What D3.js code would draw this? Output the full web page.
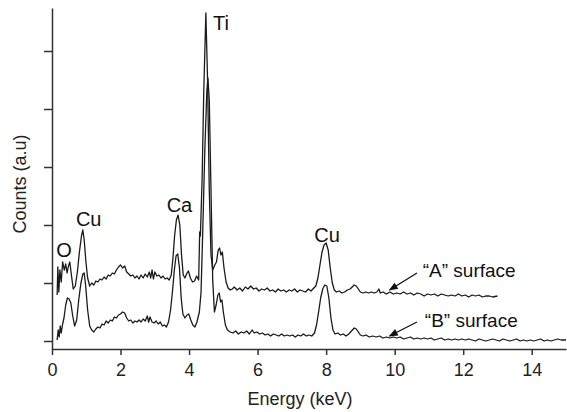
<!DOCTYPE html>
<html>
<head>
<meta charset="utf-8">
<script src="https://cdn.jsdelivr.net/npm/d3@7"></script>
<style>
  body { margin: 0; background: #fff; }
  svg { display: block; font-family: "Liberation Sans", Arial, sans-serif; }
</style>
</head>
<body>
<script>
// EDS spectra, counts in arbitrary units
const energyA = [0.15,0.17,0.20,0.23,0.27,0.31,0.36,0.40,0.44,0.48,0.52,0.57,0.62,0.68,0.74,0.80,0.86,0.90,0.94,0.99,
  1.04,1.10,1.16,1.22,1.28,1.34,1.40,1.46,1.52,1.58,1.64,1.70,1.76,1.82,1.88,1.94,2.00,2.06,2.12,2.18,
  2.24,2.30,2.36,2.42,2.48,2.54,2.60,2.66,2.72,2.78,2.84,2.88,2.92,2.96,3.00,3.06,3.12,3.18,3.24,3.30,
  3.36,3.42,3.48,3.53,3.58,3.63,3.68,3.73,3.78,3.83,3.88,3.94,3.98,4.04,4.10,4.16,4.22,4.28,4.31,4.33,
  4.38,4.43,4.49,4.54,4.59,4.64,4.69,4.75,4.80,4.85,4.89,4.93,4.97,5.02,5.08,5.14,5.20,
  5.26,5.32,5.40,5.48,5.56,5.64,5.72,5.80,5.88,5.96,6.04,6.12,6.20,6.28,6.36,6.44,6.52,6.60,6.68,6.76,
  6.84,6.92,7.00,7.08,7.16,7.24,7.32,7.40,7.48,7.56,7.64,7.70,7.76,7.82,7.88,7.94,8.00,8.06,8.12,8.18,
  8.24,8.30,8.38,8.46,8.54,8.62,8.70,8.76,8.82,8.88,8.94,9.00,9.08,9.16,9.24,9.32,9.40,9.48,9.54,9.58,
  9.66,9.76,9.86,9.96,10.06,10.16,10.26,10.36,10.46,10.56,10.66,10.76,10.86,10.96,11.06,11.16,11.26,11.36,11.46,11.56,
  11.66,11.76,11.86,11.96,12.06,12.16,12.26,12.36,12.46,12.56,12.66,12.76,12.86,13.00];
const countsA = [54,82,57,79,67,87,79,85,76,83,87,73,60,63,77,97,113,119,109,87,
  71,63,66,64,68,67,70,69,72,70,74,73,76,75,79,82,84,81,83,77,
  75,73,74,71,73,70,74,71,75,72,77,71,79,70,77,73,74,71,73,70,
  71,69,74,91,114,129,134,124,94,74,71,76,78,71,67,68,73,69,117,113,
  169,259,336,269,159,94,79,84,87,99,101,94,97,81,67,61,59,
  60,62,59,61,58,62,60,63,60,61,58,60,59,61,58,59,57,60,58,59,
  57,59,58,60,57,59,58,57,60,58,61,63,71,84,97,104,106,99,81,66,
  59,57,58,56,57,59,60,62,64,63,60,57,56,57,56,57,56,57,60,56,
  57,55,57,55,56,55,57,55,56,54,56,55,53,55,54,55,53,55,54,53,
  54,53,55,53,54,52,54,53,54,52,53,53,52,53];

const energyB = [0.15,0.18,0.21,0.24,0.27,0.31,0.35,0.40,0.45,0.50,0.55,0.60,0.66,0.72,0.78,0.84,0.90,0.94,0.98,
  1.04,1.10,1.16,1.22,1.28,1.34,1.40,1.46,1.52,1.58,1.64,1.70,1.76,1.82,1.88,1.94,2.00,2.06,2.12,2.18,
  2.24,2.30,2.36,2.42,2.48,2.54,2.60,2.66,2.72,2.78,2.82,2.86,2.92,2.98,3.04,3.10,3.16,3.22,3.28,3.34,
  3.40,3.46,3.52,3.57,3.62,3.67,3.72,3.77,3.82,3.88,3.94,3.99,4.05,4.11,4.17,4.23,4.30,4.35,4.40,4.46,
  4.52,4.55,4.59,4.64,4.69,4.74,4.79,4.84,4.88,4.92,4.96,5.00,5.06,5.12,
  5.20,5.28,5.36,5.44,5.52,5.60,5.68,5.76,5.84,5.90,5.98,6.06,6.14,6.22,6.30,6.38,6.46,6.54,6.62,6.70,
  6.78,6.86,6.94,7.02,7.10,7.18,7.26,7.34,7.42,7.50,7.58,7.66,7.72,7.78,7.84,7.90,7.96,8.02,8.08,8.14,
  8.20,8.26,8.34,8.42,8.50,8.58,8.66,8.74,8.82,8.88,8.94,9.00,9.08,9.16,9.26,9.36,9.46,9.56,9.66,9.76,
  9.86,9.96,10.06,10.16,10.26,10.36,10.46,10.56,10.66,10.76,10.86,10.96,11.06,11.16,11.26,11.36,11.46,11.56,11.66,11.76,
  11.86,11.96,12.06,12.16,12.26,12.36,12.46,12.56,12.66,12.76,12.86,12.96,13.06,13.16,13.26,13.36,13.46,13.56,13.66,13.76,
  13.86,13.96,14.06,14.16,14.26,14.36,14.46,14.56,14.66,14.76,14.86,15.00];
const countsB = [9,19,12,23,16,25,31,44,51,50,46,34,23,29,49,65,75,76,64,
  39,23,19,17,20,22,21,25,24,28,26,29,28,32,31,34,35,37,36,31,
  28,29,26,28,27,29,27,30,28,33,27,32,27,26,28,25,27,23,24,22,
  27,39,59,79,93,95,81,51,35,31,34,35,29,24,22,27,37,57,119,199,
  259,271,249,159,69,37,44,54,56,47,49,37,24,19,
  17,16,18,15,17,16,18,15,19,16,17,15,16,14,15,13,15,14,13,15,
  13,14,13,14,12,14,13,15,13,14,13,16,24,37,51,60,64,63,51,31,
  19,15,16,14,15,13,15,18,21,20,17,14,13,14,12,13,12,13,11,12,
  11,12,11,12,10,11,12,10,11,10,11,10,11,9,10,11,9,10,9,10,
  9,10,9,10,9,8,10,9,8,9,10,9,8,10,9,8,9,10,8,9,
  8,9,8,9,10,8,9,8,9,10,9,9];

const xMajorTicks = [0, 2, 4, 6, 8, 10, 12, 14];
const xMinorTicks = [1, 3, 5, 7, 9, 11, 13, 15];
const yMajorTicks = [8, 66, 124, 182, 240, 298];
const yMinorTicks = [37, 95, 153, 211, 269, 327];

const peakLabels = [
  { text: "O", e: 0.35, c: 92 },
  { text: "Cu", e: 1.07, c: 123 },
  { text: "Ca", e: 3.72, c: 137 },
  { text: "Ti", e: 4.93, c: 319 },
  { text: "Cu", e: 8.03, c: 107 }
];
const notes = [
  { text: "\u201CA\u201D surface", e: 10.82, c: 72, from: [10.65, 76], to: [9.85, 59] },
  { text: "\u201CB\u201D surface", e: 10.88, c: 22, from: [10.65, 27], to: [9.85, 13] }
];

const width = 567, height = 412;
const svg = d3.select("body").append("svg").attr("width", width).attr("height", height);

const x = d3.scaleLinear().domain([0, 15]).range([52, 566]);
const y = d3.scaleLinear().domain([0, 341]).range([349, 8]);

svg.append("defs").append("marker")
  .attr("id", "arrow")
  .attr("viewBox", "0 0 10 10")
  .attr("refX", 9).attr("refY", 5)
  .attr("markerWidth", 11).attr("markerHeight", 9)
  .attr("markerUnits", "userSpaceOnUse")
  .attr("orient", "auto")
  .append("path").attr("d", "M0,1 L10,5 L0,9 z").attr("fill", "#111");

// axes
const gx = svg.append("g").attr("transform", "translate(0,349)");
gx.call(d3.axisBottom(x).tickValues(xMinorTicks).tickSize(3).tickSizeOuter(0).tickFormat(""));
gx.call(d3.axisBottom(x).tickValues(xMajorTicks).tickSize(6).tickSizeOuter(0).tickFormat(d3.format("d")));
gx.selectAll("text").attr("y", 14).attr("dy", "0.71em").attr("font-size", 18).attr("fill", "#222");

const gy = svg.append("g").attr("transform", "translate(52,0)");
gy.call(d3.axisLeft(y).tickValues(yMinorTicks).tickSize(4).tickSizeOuter(0).tickFormat(""));
gy.call(d3.axisLeft(y).tickValues(yMajorTicks).tickSize(8).tickSizeOuter(0).tickFormat(""));

svg.selectAll(".domain, .tick line").attr("stroke", "#333").attr("stroke-width", 1.5);

svg.append("text")
  .attr("x", 300).attr("y", 405)
  .attr("text-anchor", "middle").attr("font-size", 18).attr("fill", "#222")
  .text("Energy (keV)");

svg.append("text")
  .attr("transform", "translate(26,184) rotate(-90)")
  .attr("text-anchor", "middle").attr("font-size", 18).attr("fill", "#222")
  .text("Counts (a.u)");

// spectra
const line = d3.line().x(d => x(d[0])).y(d => y(d[1]));
const seriesA = energyA.map((e, i) => [e, countsA[i]]);
const seriesB = energyB.map((e, i) => [e, countsB[i]]);

svg.selectAll("path.spec")
  .data([seriesB, seriesA])
  .enter()
  .append("path")
  .attr("class", "spec")
  .attr("d", line)
  .attr("fill", "none")
  .attr("stroke", "#1a1a1a")
  .attr("stroke-width", 1.3)
  .attr("stroke-linejoin", "round");

// peak labels
svg.selectAll("text.peak")
  .data(peakLabels)
  .enter()
  .append("text")
  .attr("class", "peak")
  .attr("x", d => x(d.e)).attr("y", d => y(d.c))
  .attr("text-anchor", "middle").attr("font-size", 20).attr("fill", "#111")
  .text(d => d.text);

// surface annotations
svg.selectAll("text.note")
  .data(notes)
  .enter()
  .append("text")
  .attr("class", "note")
  .attr("x", d => x(d.e)).attr("y", d => y(d.c))
  .attr("font-size", 19).attr("fill", "#111")
  .text(d => d.text);

svg.selectAll("line.arrow")
  .data(notes)
  .enter()
  .append("line")
  .attr("class", "arrow")
  .attr("x1", d => x(d.from[0])).attr("y1", d => y(d.from[1]))
  .attr("x2", d => x(d.to[0])).attr("y2", d => y(d.to[1]))
  .attr("stroke", "#111").attr("stroke-width", 1.3)
  .attr("marker-end", "url(#arrow)");
</script>
</body>
</html>
